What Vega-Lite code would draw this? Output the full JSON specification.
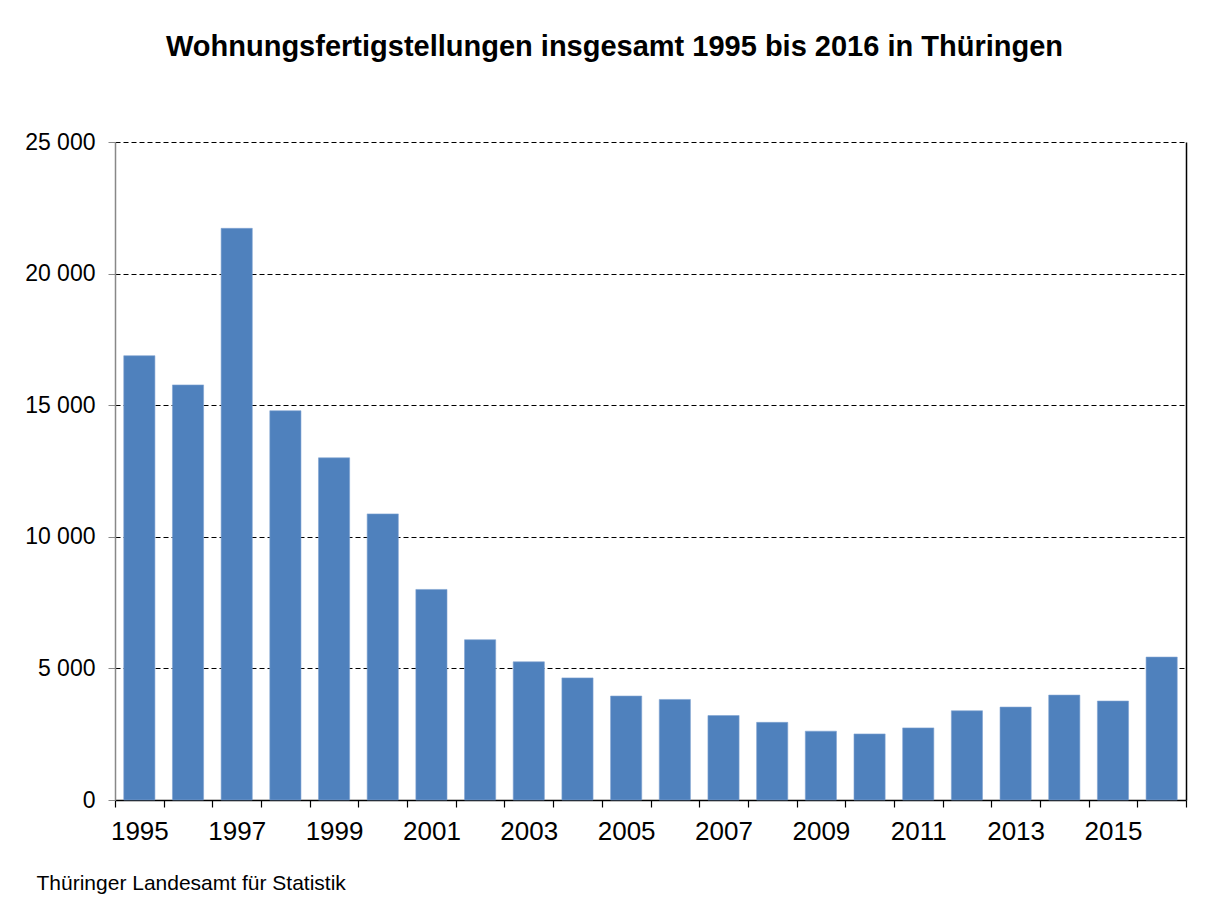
{
  "$schema": "https://vega.github.io/schema/vega-lite/v6.json",
  "autosize": "none",
  "width": 1071,
  "height": 658,
  "padding": {"left": 115, "top": 142, "right": 28, "bottom": 104},
  "background": "white",
  "title": {
    "text": "Wohnungsfertigstellungen insgesamt 1995 bis 2016 in Thüringen",
    "font": "Liberation Sans",
    "fontSize": 29,
    "fontWeight": "bold",
    "color": "black",
    "anchor": "middle",
    "frame": "group",
    "dx": -36,
    "baseline": "alphabetic",
    "offset": 46
  },
  "data": {
    "values": [
      {"year": 1995, "value": 16880},
      {"year": 1996, "value": 15770},
      {"year": 1997, "value": 21720},
      {"year": 1998, "value": 14790},
      {"year": 1999, "value": 13000},
      {"year": 2000, "value": 10870},
      {"year": 2001, "value": 8000},
      {"year": 2002, "value": 6090},
      {"year": 2003, "value": 5250},
      {"year": 2004, "value": 4640},
      {"year": 2005, "value": 3950},
      {"year": 2006, "value": 3820},
      {"year": 2007, "value": 3210},
      {"year": 2008, "value": 2950},
      {"year": 2009, "value": 2615},
      {"year": 2010, "value": 2510},
      {"year": 2011, "value": 2740},
      {"year": 2012, "value": 3390},
      {"year": 2013, "value": 3530},
      {"year": 2014, "value": 3985},
      {"year": 2015, "value": 3760},
      {"year": 2016, "value": 5430}
    ]
  },
  "encoding": {
    "x": {
      "field": "year",
      "type": "ordinal",
      "scale": {"paddingInner": 0, "paddingOuter": 0},
      "axis": {
        "title": "Thüringer Landesamt für Statistik",
        "titleFont": "Liberation Sans",
        "titleFontSize": 21,
        "titleFontWeight": "normal",
        "titleColor": "black",
        "titleAnchor": "start",
        "titleAlign": "left",
        "titleBaseline": "alphabetic",
        "titleX": -79,
        "titleY": 89,
        "labelAngle": 0,
        "labelFont": "Liberation Sans",
        "labelFontSize": 26,
        "labelColor": "black",
        "labelPadding": 11,
        "labelExpr": "datum.value % 2 == 1 ? datum.label : ''",
        "tickBand": "extent",
        "tickSize": 7,
        "tickColor": "black",
        "tickWidth": 1.2,
        "domainColor": "black",
        "domainWidth": 1.5,
        "grid": false
      }
    },
    "y": {
      "field": "value",
      "type": "quantitative",
      "scale": {"domain": [0, 25000]}
    }
  },
  "layer": [
    {
      "mark": {"type": "bar", "fill": "#4F81BD", "width": {"band": 0.64}, "stroke": "#7FA2D2", "strokeWidth": 0.6},
      "encoding": {
        "y": {
          "field": "value",
          "type": "quantitative",
          "scale": {"domain": [0, 25000]},
          "axis": {
            "title": null,
            "values": [0, 5000, 10000, 15000, 20000, 25000],
            "labelExpr": "replace(format(datum.value, ',d'), ',', ' ')",
            "labelFont": "Liberation Sans",
            "labelFontSize": 23,
            "labelColor": "black",
            "labelPadding": 13,
            "tickSize": 7,
            "tickColor": "#888888",
            "domainColor": "#888888",
            "domainWidth": 1.5,
            "grid": true,
            "gridColor": "black",
            "gridDash": [5, 3],
            "gridWidth": 1,
            "zindex": 0
          }
        }
      }
    },
    {
      "mark": {"type": "bar", "opacity": 0, "width": {"band": 0.64}},
      "encoding": {
        "y": {
          "field": "value",
          "type": "quantitative",
          "scale": {"domain": [0, 25000]},
          "axis": {
            "orient": "right",
            "title": null,
            "labels": false,
            "ticks": false,
            "grid": false,
            "domainColor": "black",
            "domainWidth": 1.5
          }
        }
      }
    }
  ],
  "resolve": {"axis": {"y": "independent"}},
  "config": {
    "view": {"stroke": null}
  }
}
